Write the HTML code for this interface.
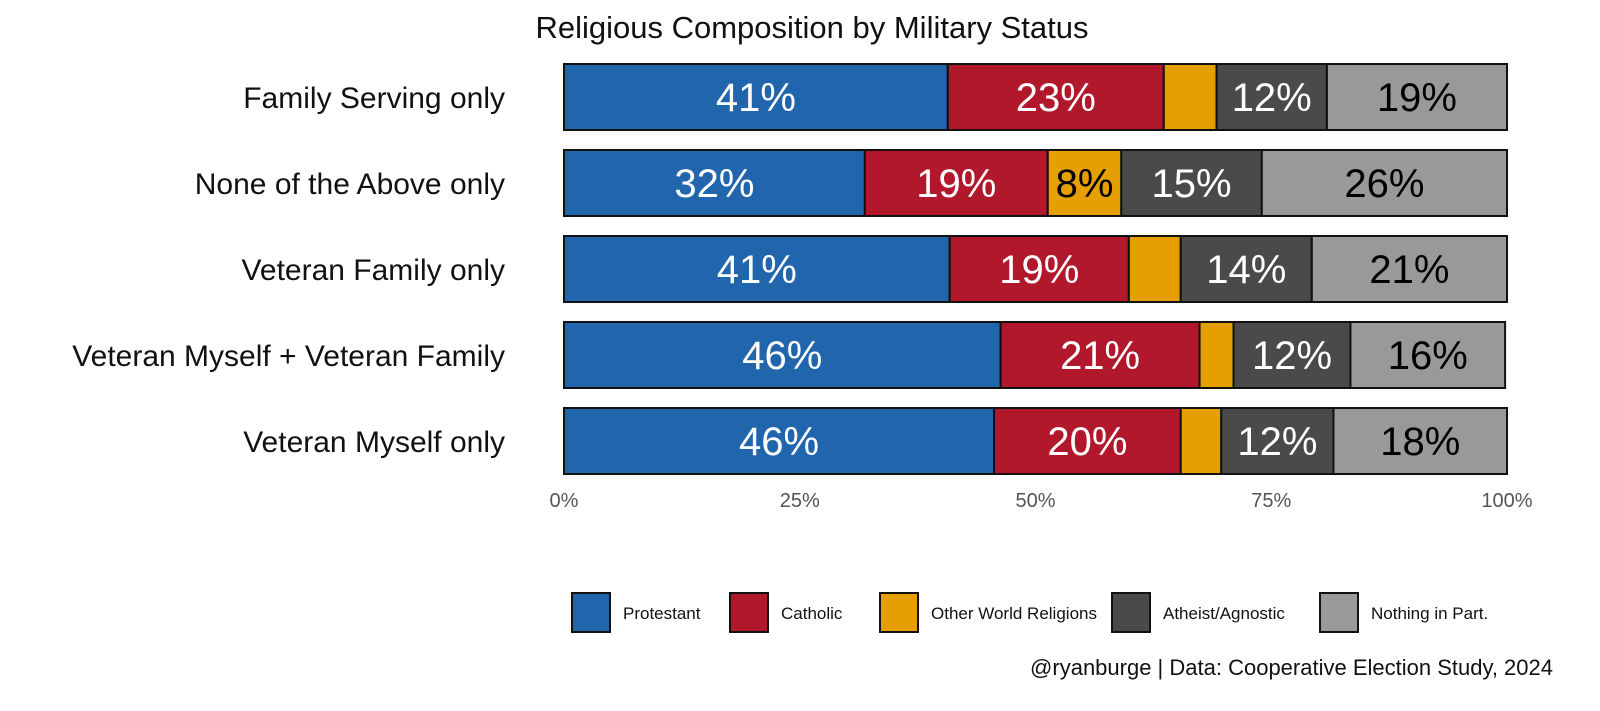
<!DOCTYPE html>
<html><head><meta charset="utf-8"><style>
body{margin:0;background:#fff;}
svg{display:block;font-family:"Liberation Sans",sans-serif;}
</style></head><body>
<svg id="chart" width="1600" height="711" viewBox="0 0 1600 711">
<text x="812" y="38" text-anchor="middle" font-size="31" fill="#111">Religious Composition by Military Status</text>
<g id="bars"></g>
<g id="xaxis"></g>
<g id="legend"></g>
<text x="1553" y="675" text-anchor="end" font-size="22" fill="#111">@ryanburge | Data: Cooperative Election Study, 2024</text>
</svg>
<script>
const categories=["Family Serving only","None of the Above only","Veteran Family only","Veteran Myself + Veteran Family","Veteran Myself only"];
const seriesNames=["Protestant","Catholic","Other World Religions","Atheist/Agnostic","Nothing in Part."];
const protestant=[40.7,31.9,40.9,46.3,45.6];
const catholic=[22.9,19.4,19.0,21.1,19.8];
const other=[5.6,7.8,5.5,3.6,4.3];
const atheist=[11.7,14.9,13.9,12.4,11.9];
const nothing=[19.1,26.0,20.7,16.4,18.4];
const ticks=[0,25,50,75,100];

const NS="http://www.w3.org/2000/svg";
const colors=["#2166ac","#b2182b","#e69f00","#4a4a4a","#999999"];
const textCol=["#fff","#fff","#000","#fff","#000"];
const x0=564,x1=1507;
const xs=v=>x0+(x1-x0)*v/100;
const rowY=i=>64+i*86;
const barH=66;
function el(t,a,p){const e=document.createElementNS(NS,t);for(const k in a)e.setAttribute(k,a[k]);p.appendChild(e);return e;}
const bars=document.getElementById('bars');
const series=[protestant,catholic,other,atheist,nothing];
categories.forEach((c,i)=>{
  const y=rowY(i);
  const lab=el('text',{x:505,y:y+barH/2+11,'text-anchor':'end','font-size':30,fill:'#111'},bars);
  lab.textContent=c;
  
  
  let cum=0;
  series.forEach((s,j)=>{
    const v=s[i];
    const r=el('rect',{x:xs(cum),y:y,width:xs(cum+v)-xs(cum),height:barH,fill:colors[j],stroke:'#111','stroke-width':2},bars);
    
    
    if(v>=7.5){
      const t=el('text',{x:(xs(cum)+xs(cum+v))/2,y:y+barH/2+14,'text-anchor':'middle','font-size':40,fill:textCol[j]},bars);
      t.textContent=Math.round(v)+'%';
      
      
    }
    cum+=v;
  });
});
const xa=document.getElementById('xaxis');
ticks.forEach(t=>{
  const e=el('text',{x:xs(t),y:507,'text-anchor':'middle','font-size':20,fill:'#555'},xa);
  e.textContent=t+'%';
  
  
});
const lg=document.getElementById('legend');
const lx=[572,730,880,1112,1320];
seriesNames.forEach((n,j)=>{
  const r=el('rect',{x:lx[j],y:593,width:38,height:39,fill:colors[j],stroke:'#111','stroke-width':2},lg);
  
  
  const t=el('text',{x:lx[j]+51,y:619,'font-size':17,fill:'#111'},lg);
  t.textContent=n;
  
  
});
</script>
</body></html>
